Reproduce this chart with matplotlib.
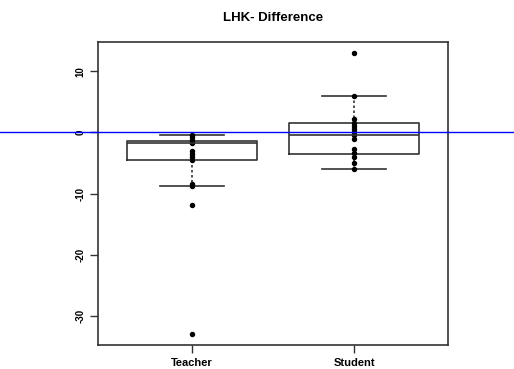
import numpy as np
import matplotlib.pyplot as plt
from matplotlib.lines import Line2D

plt.rcParams['font.family'] = ['Liberation Sans', 'DejaVu Sans']

groups = ['Teacher', 'Student']
teacher = [-0.4, -0.8, -1.2, -1.5, -1.8, -3.0, -3.5, -4.0, -4.5, -8.5, -8.7, -11.8, -32.9]
student = [12.9, 6.0, 2.2, 1.5, 1.0, 0.5, 0.0, -0.5, -1.0, -2.7, -3.3, -4.0, -5.0, -6.0]

# box stats: (whislo, q1, med, q3, whishi)
stats_teacher = (-8.7, -4.5, -1.8, -1.4, -0.4)
stats_student = (-6.0, -3.5, -0.4, 1.5, 6.0)
fliers = [[-11.8, -32.9], [12.9]]

yticks = [10, 0, -10, -20, -30]

fig = plt.figure(figsize=(5.14, 3.69), dpi=100)
ax = fig.add_axes([0.1907, 0.065, 0.681, 0.8212])

bxp = []
for st, fl, lab in zip([stats_teacher, stats_student], fliers, groups):
    lo, q1, med, q3, hi = st
    bxp.append(dict(whislo=lo, q1=q1, med=med, q3=q3, whishi=hi, fliers=fl, label=lab))

ax.bxp(bxp, positions=[1, 2], widths=0.8, showfliers=False,
       boxprops=dict(color='#333333', lw=1.2),
       medianprops=dict(color='#333333', lw=1.2),
       whiskerprops=dict(color='#333333', lw=1.2, ls=(0, (1.5, 1.5))),
       capprops=dict(color='#333333', lw=1.2), capwidths=0.4)

for i, vals in enumerate([teacher, student]):
    ax.plot(np.full(len(vals), i + 1), vals, 'o', color='black', ms=2.9)

ax.set_xlim(0.42, 2.58)
ax.set_ylim(-34.7, 14.76)
ax.set_xticks([1, 2])
ax.set_xticklabels(groups, fontsize=8, fontweight='bold')
ax.set_yticks(yticks)
ax.set_yticklabels([str(t) for t in yticks], fontsize=7, rotation=90, va='center',
                   fontweight='bold')
ax.tick_params(length=6, width=1, color='#333333', pad=3)
for s in ax.spines.values():
    s.set_color('#333333')
    s.set_linewidth(1.2)

# horizontal reference line through 0, across the whole figure
y0 = ax.transData.transform((0, 0))[1] / fig.bbox.height
fig.add_artist(Line2D([0, 1], [y0, y0], color='blue', lw=1, transform=fig.transFigure))

fig.text(0.531, 0.951, 'LHK- Difference', ha='center', va='center', fontsize=9.5, fontweight='bold')

plt.savefig('out.png', dpi=100)
